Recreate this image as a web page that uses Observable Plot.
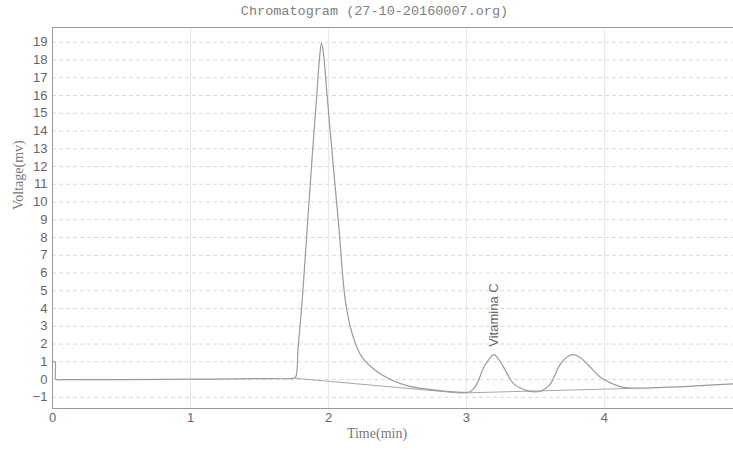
<!DOCTYPE html>
<html>
<head>
<meta charset="utf-8">
<script src="https://cdn.jsdelivr.net/npm/d3@7"></script>
<script src="https://cdn.jsdelivr.net/npm/@observablehq/plot@0.6"></script>
<style>
  body { margin: 0; background: #fff; }
  #title { height: 24px; line-height: 24px; font-family: "Liberation Mono", "DejaVu Sans Mono", monospace; font-size: 13.5px; color: #808080; text-align: center; padding-left: 16px; box-sizing: border-box; width: 733px; }
</style>
</head>
<body>
<div id="title">Chromatogram (27-10-20160007.org)</div>
<div id="chart"></div>
<script>
// Chromatogram signal (time in minutes, voltage in mV)
const timeMin = [0, 0.018, 0.022, 0.03, 0.1, 0.5, 1.0, 1.5, 1.74, 1.761, 1.78, 1.809, 1.85, 1.885, 1.915, 1.935, 1.949, 1.963, 1.99, 2.025, 2.075, 2.123, 2.172, 2.244, 2.377, 2.57, 2.763, 2.933, 3.0, 3.029, 3.072, 3.125, 3.159, 3.198, 3.232, 3.27, 3.343, 3.44, 3.536, 3.572, 3.609, 3.681, 3.725, 3.766, 3.812, 3.875, 3.971, 4.092, 4.164, 4.454, 4.696, 4.935];
const voltageMv = [1.0, 1.0, 0.05, 0.0, 0.0, 0.0, 0.02, 0.05, 0.07, 0.12, 1.8, 4.4, 9.0, 12.9, 16.0, 18.1, 18.95, 18.4, 16.0, 12.87, 8.6, 4.4, 2.57, 1.25, 0.32, -0.34, -0.58, -0.71, -0.72, -0.67, -0.3, 0.69, 1.1, 1.4, 1.15, 0.69, -0.24, -0.62, -0.66, -0.5, -0.24, 0.88, 1.25, 1.4, 1.3, 0.88, 0.13, -0.34, -0.47, -0.43, -0.34, -0.24];

// Integration baseline drawn under the peaks
const baselineTime = [1.761, 2.95, 4.19];
const baselineVolt = [0.07, -0.76, -0.5];

// Peak annotation
const peakNames = ["Vitamina C"];
const peakTime = [3.198];
const peakVolt = [1.4];

// Axis ticks
const xTicks = [0, 1, 2, 3, 4];
const yTicks = d3.range(-1, 20);

const signal = timeMin.map((t, i) => ({t, v: voltageMv[i]}));
const baseline = baselineTime.map((t, i) => ({t, v: baselineVolt[i]}));
const peaks = peakNames.map((name, i) => ({name, t: peakTime[i], v: peakVolt[i]}));

const chart = Plot.plot({
  width: 733,
  height: 426,
  marginTop: 3,
  marginBottom: 42,
  marginLeft: 52,
  marginRight: 0,
  style: {background: "#fff", overflow: "visible"},
  x: {domain: [0, 4.935]},
  y: {domain: [-1.63, 19.83]},
  marks: [
    Plot.gridY(yTicks, {stroke: "#cfcfcf", strokeOpacity: 1, strokeDasharray: "4,3", strokeWidth: 0.8}),
    Plot.gridX([1, 2, 3, 4], {stroke: "#e2e2e2", strokeOpacity: 1, strokeWidth: 0.8}),
    Plot.frame({stroke: "#999"}),
    Plot.axisY(yTicks, {tickSize: 0, tickPadding: 5, label: null, tickFormat: d3.format("d"), fontFamily: "Liberation Sans, Arial, sans-serif", fontSize: 13, fill: "#666"}),
    Plot.axisX(xTicks, {tickSize: 0, tickPadding: 4, label: null, tickFormat: d3.format("d"), fontFamily: "Liberation Sans, Arial, sans-serif", fontSize: 13, fill: "#666"}),
    Plot.line(baseline, {x: "t", y: "v", stroke: "#a8a8a8", strokeWidth: 1}),
    Plot.line(signal, {x: "t", y: "v", stroke: "#9a9a9a", strokeWidth: 1.2, curve: "catmull-rom"}),
    Plot.text(peaks, {x: "t", y: "v", text: "name", rotate: -90, textAnchor: "start", dy: -8, fontFamily: "Liberation Sans, Arial, sans-serif", fontSize: 13, fill: "#666"}),
    Plot.text(["Voltage(mv)"], {frameAnchor: "left", rotate: -90, dx: -34, dy: -8, fontFamily: "Liberation Serif, Times New Roman, serif", fontSize: 14, fill: "#777"}),
    Plot.text(["Time(min)"], {frameAnchor: "bottom", dx: -16, dy: 29, fontFamily: "Liberation Serif, Times New Roman, serif", fontSize: 14, fill: "#777"})
  ]
});
document.getElementById("chart").appendChild(chart);
</script>
</body>
</html>
